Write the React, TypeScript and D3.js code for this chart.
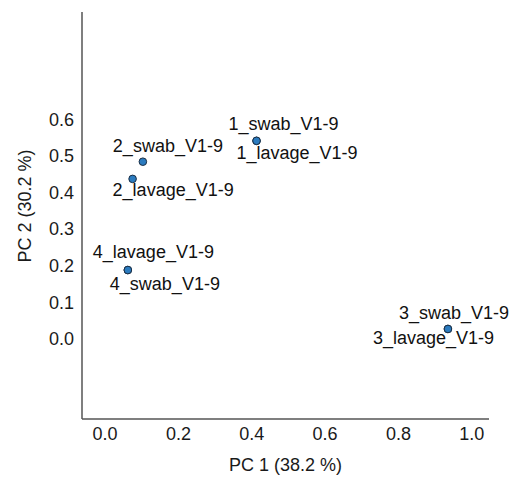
import { useEffect, useRef } from 'react'
import * as d3 from 'd3'

// PCA scores (swab/lavage of the same subject overlap)
const samples = [
  '1_swab_V1-9', '1_lavage_V1-9',
  '2_swab_V1-9', '2_lavage_V1-9',
  '3_swab_V1-9', '3_lavage_V1-9',
  '4_swab_V1-9', '4_lavage_V1-9',
]
const pc1 = [0.413, 0.413, 0.103, 0.075, 0.935, 0.935, 0.062, 0.062]
const pc2 = [0.541, 0.541, 0.484, 0.437, 0.027, 0.027, 0.188, 0.188]
const xTicks = [0, 0.2, 0.4, 0.6, 0.8, 1.0]
const yTicks = [0, 0.1, 0.2, 0.3, 0.4, 0.5, 0.6]
const xTitle = 'PC 1 (38.2 %)'
const yTitle = 'PC 2 (30.2 %)'

// label nudges in px (left edge, baseline) from the point
const nudge: Record<string, [number, number]> = {
  '1_swab_V1-9': [-28, -11],
  '1_lavage_V1-9': [-20, 18],
  '2_swab_V1-9': [-30, -10],
  '2_lavage_V1-9': [-20, 17],
  '3_swab_V1-9': [-49, -10],
  '3_lavage_V1-9': [-75, 15],
  '4_swab_V1-9': [-18, 20],
  '4_lavage_V1-9': [-35, -12],
}

const W = 516
const H = 479

export default function App() {
  const ref = useRef<SVGSVGElement>(null)

  useEffect(() => {
    const svg = d3.select(ref.current)
    svg.selectAll('*').remove()

    const left = 82, right = 489, top = 12, bottom = 419
    const x = d3.scaleLinear().domain([-0.063, 1.047]).range([left, right])
    const y = d3.scaleLinear().domain([-0.219, 0.893]).range([bottom, top])
    const font = 'Liberation Sans, Arial, sans-serif'
    const axisColor = '#555'

    // axes: plain lines, no tick marks
    svg.append('line')
      .attr('x1', left).attr('x2', left).attr('y1', top).attr('y2', bottom)
      .attr('stroke', axisColor).attr('stroke-width', 1.5)
    svg.append('line')
      .attr('x1', left).attr('x2', right).attr('y1', bottom).attr('y2', bottom)
      .attr('stroke', axisColor).attr('stroke-width', 1.5)

    svg.append('g').selectAll('text').data(xTicks).join('text')
      .attr('x', d => x(d)).attr('y', bottom + 21)
      .attr('text-anchor', 'middle')
      .style('font-family', font).style('font-size', '18px').attr('fill', '#1a1a1a')
      .text(d => d3.format('.1f')(d))

    svg.append('g').selectAll('text').data(yTicks).join('text')
      .attr('x', left - 8).attr('y', d => y(d)).attr('dy', '0.35em')
      .attr('text-anchor', 'end')
      .style('font-family', font).style('font-size', '18px').attr('fill', '#1a1a1a')
      .text(d => d3.format('.1f')(d))

    svg.append('text')
      .attr('x', (left + right) / 2).attr('y', 471)
      .attr('text-anchor', 'middle')
      .style('font-family', font).style('font-size', '18px').attr('fill', '#1a1a1a')
      .text(xTitle)

    svg.append('text')
      .attr('transform', `translate(31,206) rotate(-90)`)
      .attr('text-anchor', 'middle')
      .style('font-family', font).style('font-size', '18px').attr('fill', '#1a1a1a')
      .text(yTitle)

    const pts = samples.map((s, i) => ({ s, px: x(pc1[i]), py: y(pc2[i]) }))

    svg.append('g').selectAll('circle').data(pts).join('circle')
      .attr('cx', d => d.px).attr('cy', d => d.py).attr('r', 3.8)
      .attr('fill', '#2b7bbf').attr('stroke', '#1b2f45').attr('stroke-width', 1)

    svg.append('g').selectAll('text').data(pts).join('text')
      .attr('x', d => d.px + nudge[d.s][0]).attr('y', d => d.py + nudge[d.s][1])
      .style('font-family', font).style('font-size', '18px').attr('fill', '#111')
      .text(d => d.s)
  }, [])

  return (
    <div style={{ position: 'absolute', left: 0, top: 0 }}>
      <svg ref={ref} width={W} height={H} style={{ display: 'block', background: '#fff' }} />
    </div>
  )
}
